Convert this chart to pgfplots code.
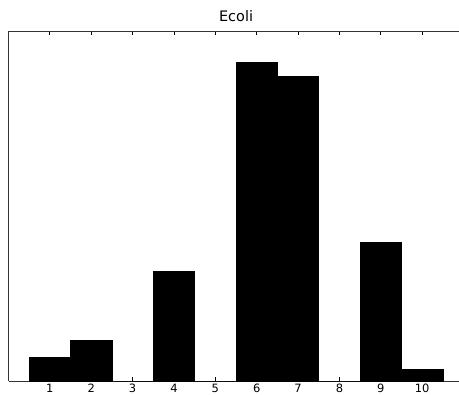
\documentclass[border=0pt]{standalone}
\usepackage{pgfplots}
\pgfplotsset{compat=1.18}
\usepackage{fontspec}
\setmainfont{DejaVu Sans}
\begin{document}
\begin{tikzpicture}[x=1bp,y=1bp]
\useasboundingbox (-8.5,-13) rectangle (450.5,381);
\clip (-8.5,-13) rectangle (450.5,381);
\begin{axis}[
  at={(0,0)}, anchor=origin,
  scale only axis,
  width=455.1bp, height=350bp,
  xmin=0, xmax=11, ymin=0, ymax=350,
  axis y line*=left,
  ybar, bar width=1, bar shift=0,
  xtick={1,2,3,4,5,6,7,8,9,10},
  ytick=\empty,
  tick align=inside,
  major tick length=4bp,
  tick style={black, line width=0.8bp},
  axis line style={line width=0.8bp, black!80},
  /pgf/number format/assume math mode=true,
  xticklabel style={font=\fontsize{11.5}{12}\selectfont, anchor=north, yshift=0.5bp},
  title={Ecoli},
  title style={font=\fontsize{14.5}{15}\selectfont, at={(0.5,1)}, anchor=south, yshift=0bp},
]
\addplot[fill=black, draw=black, line width=0.8bp] coordinates {
  (1,24) (2,41) (3,0) (4,110) (5,0) (6,319) (7,305) (8,0) (9,139) (10,12)
};
\end{axis}
\end{tikzpicture}
\end{document}
